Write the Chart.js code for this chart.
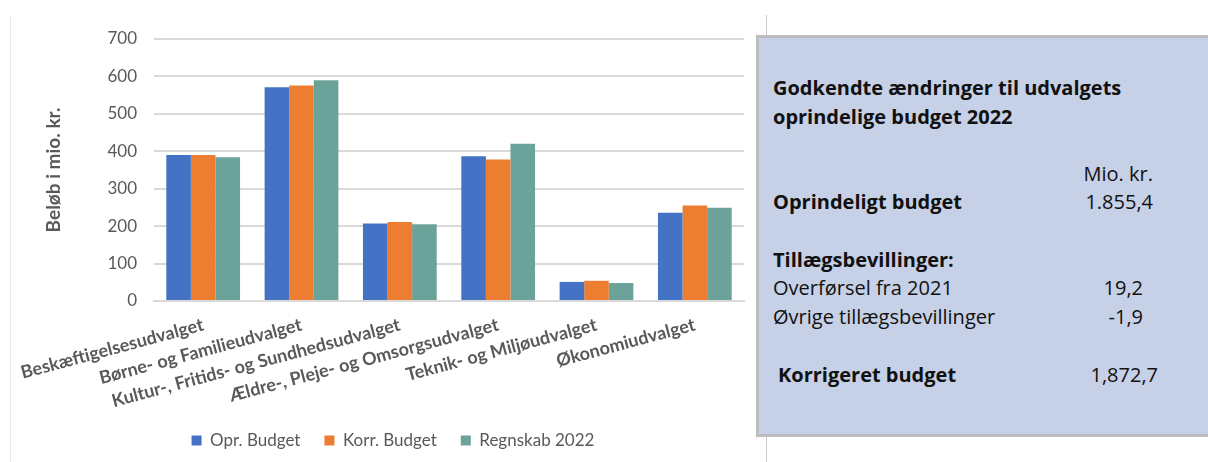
<!DOCTYPE html>
<html>
<head>
<meta charset="utf-8">
<script src="https://cdn.jsdelivr.net/npm/chart.js@4"></script>
<style>
    body { margin: 0; background: #fff; width: 1208px; height: 462px; overflow: hidden; position: relative; font-family: "Open Sans", Lato, sans-serif; }
    #frame { position: absolute; left: 10px; top: 15px; width: 757px; height: 447px; border-left: 1px solid #ececec; border-right: 1px solid #c8c8c8; box-sizing: border-box; }
    #chart-wrap { position: absolute; left: 0; top: 0; width: 767px; height: 462px; }
    #note { position: absolute; left: 756px; top: 35px; width: 460px; height: 402px; background: #c6d0e6; border: 3px solid #bdbdbd; box-sizing: border-box; color: #111; }
    #note div { position: absolute; white-space: nowrap; font-size: 20px; line-height: 24px; }
    .b { font-weight: bold; }
    .num { text-align: right; }
</style>
</head>
<body>
<div id="frame"></div>
<div id="chart-wrap"><canvas id="budgetChart" width="767" height="462"></canvas></div>
<div id="note">
    <div class="b" style="left:14px; top:38px;">Godkendte ændringer til udvalgets</div>
    <div class="b" style="left:14px; top:67px;">oprindelige budget 2022</div>
    <div style="left:250px; top:124px; width:144px;" class="num">Mio. kr.</div>
    <div class="b" style="left:14px; top:152px;">Oprindeligt budget</div>
    <div style="left:250px; top:152px; width:144px;" class="num">1.855,4</div>
    <div class="b" style="left:14px; top:210px;">Tillægsbevillinger:</div>
    <div style="left:14px; top:238px;">Overførsel fra 2021</div>
    <div style="left:250px; top:238px; width:134px;" class="num">19,2</div>
    <div style="left:14px; top:267px;">Øvrige tillægsbevillinger</div>
    <div style="left:250px; top:267px; width:134px;" class="num">-1,9</div>
    <div class="b" style="left:19px; top:325px;">Korrigeret budget</div>
    <div style="left:250px; top:325px; width:149px;" class="num">1,872,7</div>
</div>
<script>
// Chart data
const categories = [
    'Beskæftigelsesudvalget',
    'Børne- og Familieudvalget',
    'Kultur-, Fritids- og Sundhedsudvalget',
    'Ældre-, Pleje- og Omsorgsudvalget',
    'Teknik- og Miljøudvalget',
    'Økonomiudvalget'
];
const oprBudget = [390, 571, 207, 387, 51, 236];
const korrBudget = [390, 576, 211, 378, 54, 255];
const regnskab2022 = [384, 590, 205, 420, 48, 249];
const yTicks = [0, 100, 200, 300, 400, 500, 600, 700];

const grey = '#595959';
const chartFont = 'Lato, "Open Sans", sans-serif';

const ctx = document.getElementById('budgetChart').getContext('2d');
new Chart(ctx, {
    type: 'bar',
    data: {
        labels: categories,
        datasets: [
            { label: 'Opr. Budget', data: oprBudget, backgroundColor: '#4472C4' },
            { label: 'Korr. Budget', data: korrBudget, backgroundColor: '#ED7D31' },
            { label: 'Regnskab 2022', data: regnskab2022, backgroundColor: '#6BA39A' }
        ]
    },
    options: {
        responsive: false,
        animation: false,
        layout: { padding: { left: 42, top: 39, right: 23, bottom: 3 } },
        datasets: { bar: { categoryPercentage: 0.75, barPercentage: 1.0 } },
        scales: {
            x: {
                grid: { display: false },
                border: { color: '#d9d9d9', width: 2 },
                ticks: {
                    color: grey,
                    font: { family: chartFont, size: 18, weight: 'bold' },
                    minRotation: 15,
                    maxRotation: 15,
                    autoSkip: false,
                    padding: 5
                },
                // long rotated labels should not push the plot area to the right
                afterFit: scale => {
                    scale.height = 107;
                    scale.paddingLeft = 0;
                    scale.paddingRight = 0;
                }
            },
            y: {
                min: 0,
                max: 700,
                afterBuildTicks: scale => { scale.ticks = yTicks.map(v => ({ value: v })); },
                grid: { color: '#d9d9d9', lineWidth: 2, drawTicks: false },
                border: { display: false },
                ticks: {
                    color: grey,
                    padding: 17,
                    font: { family: chartFont, size: 17 }
                },
                title: {
                    display: true,
                    text: 'Beløb i mio. kr.',
                    color: grey,
                    padding: { top: 0, bottom: 0 },
                    font: { family: chartFont, size: 19, weight: 'bold' }
                },
                afterFit: scale => { scale.width = 112; }
            }
        },
        plugins: {
            legend: {
                position: 'bottom',
                labels: {
                    color: grey,
                    boxWidth: 10,
                    boxHeight: 10,
                    padding: 24,
                    font: { family: chartFont, size: 17 }
                }
            },
            tooltip: { enabled: false }
        }
    }
});
</script>
</body>
</html>
